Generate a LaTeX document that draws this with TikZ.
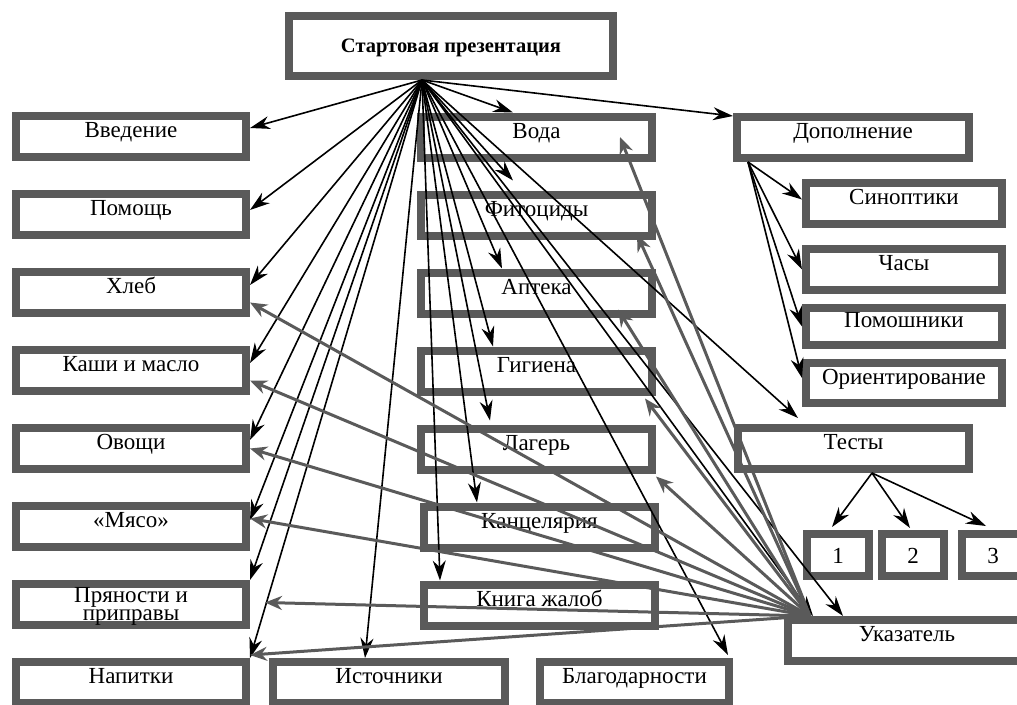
\documentclass[tikz,border=0pt]{standalone}
\usepackage{fontspec}
\setmainfont{Liberation Serif}
\usepackage{tikz}
\usetikzlibrary{arrows.meta, calc, positioning}
\definecolor{boxgray}{HTML}{5A5A5A}
\tikzstyle{block} = [rectangle, draw=boxgray, line width=8pt, outer sep=4pt, inner sep=0pt, minimum width=230pt, minimum height=41pt, text centered, text height=8pt, text depth=6pt, font=\fontsize{23pt}{24pt}\selectfont]
\tikzstyle{title} = [block, minimum width=324pt, minimum height=60pt, text height=15pt, text depth=3pt, font=\fontsize{20.5pt}{23pt}\selectfont\bfseries]
\tikzstyle{digit} = [block, minimum width=62pt, minimum height=42pt, text height=16pt, text depth=0pt]
\tikzstyle{arrow} = [line width=1.6pt, ->, >={Stealth[length=20pt, width=13pt]}]
\tikzstyle{backarrow} = [line width=3pt, draw=boxgray, ->, >={Stealth[length=17pt, width=14pt]}]

\begin{document}
\begin{tikzpicture}[x=1pt, y=-1pt, node distance = 29pt]
	\useasboundingbox (0,0) rectangle (1017,704);
	\node (Start) [title] at (451,46) {Стартовая презентация};
	% left column
	\node (Vvedenie) [block] at (131,136.5) {Введение};
	\node (Pomosch) [block, below = of Vvedenie] {Помощь};
	\node (Hleb) [block, below = of Pomosch] {Хлеб};
	\node (Kashi) [block, below = of Hleb] {Каши и масло};
	\node (Ovoschi) [block, below = of Kashi] {Овощи};
	\node (Myaso) [block, below = of Ovoschi] {«Мясо»};
	\node (Pryanosti) [block, below = of Myaso, align=center, text height=34pt, text depth=3pt] {Пряности и\\[-6pt]приправы};
	\node (Napitki) [block, below = of Pryanosti] {Напитки};
	% middle column
	\node (Voda) [block, minimum width=231pt] at (536.5,137) {Вода};
	\node (Fitocidy) [block, minimum width=231pt, below = of Voda] {Фитоциды};
	\node (Apteka) [block, minimum width=231pt, below = of Fitocidy] {Аптека};
	\node (Gigiena) [block, minimum width=231pt, below = of Apteka] {Гигиена};
	\node (Lager) [block, minimum width=231pt, below = of Gigiena] {Лагерь};
	\node (Kancelyariya) [block, minimum width=231pt, below = of Lager, xshift=3pt] {Канцелярия};
	\node (Kniga) [block, minimum width=231pt, below = of Kancelyariya] {Книга жалоб};
	\node (Istochniki) [block, minimum width=232pt] at (389,682.5) {Источники};
	\node (Blagodarnosti) [block, minimum width=189pt] at (634.5,682.5) {Благодарности};
	% right column
	\node (Dopolnenie) [block, minimum width=232pt] at (853,137.5) {Дополнение};
	\node (Sinoptiki) [block, minimum width=196pt] at (904,203.5) {Синоптики};
	\node (Chasy) [block, minimum width=196pt, below = 17pt of Sinoptiki] {Часы};
	\node (Pomoshniki) [block, minimum width=196pt, minimum height=37pt, below = 10pt of Chasy] {Помошники};
	\node (Orientirovanie) [block, minimum width=196pt, minimum height=40pt, below = 10pt of Pomoshniki] {Ориентирование};
	\node (Testy) [block, minimum width=231pt] at (853.5,448.5) {Тесты};
	\node (T1) [digit] at (838,555) {1};
	\node (T2) [digit, right = 5pt of T1] {2};
	\node (T3) [digit, right = 10pt of T2] {3};
	\node (Ukazatel) [block, minimum width=238pt] at (907,640.5) {Указатель};

	\coordinate (Hub) at ([xshift=-29pt]Start.south);
	\coordinate (DopHub) at ([xshift=15pt]Dopolnenie.south west);
	\coordinate (TestHub) at ([xshift=18.5pt]Testy.south);
	\coordinate (UkHub) at ([xshift=26pt]Ukazatel.north west);

	% from the start page
	\draw [arrow] (Hub) -- ([yshift=8.5pt]Vvedenie.east);
	\draw [arrow] (Hub) -- ([yshift=4.5pt]Pomosch.east);
	\draw [arrow] (Hub) -- ([yshift=7.5pt]Hleb.east);
	\draw [arrow] (Hub) -- ([yshift=7.5pt]Kashi.east);
	\draw [arrow] (Hub) -- ([yshift=8.5pt]Ovoschi.east);
	\draw [arrow] (Hub) -- ([yshift=6.5pt]Myaso.east);
	\draw [arrow] (Hub) -- (Pryanosti.north east);
	\draw [arrow] (Hub) -- (Napitki.north east);
	\draw [arrow] (Hub) -- ([xshift=-24pt]Istochniki.north);
	\draw [arrow] (Hub) -- ([xshift=20pt]Kniga.north west);
	\draw [arrow] (Hub) -- ([xshift=57pt]Kancelyariya.north west);
	\draw [arrow] (Hub) -- ([xshift=73pt, yshift=4pt]Lager.north west);
	\draw [arrow] (Hub) -- ([xshift=76pt]Gigiena.north west);
	\draw [arrow] (Hub) -- ([xshift=85pt]Apteka.north west);
	\draw [arrow] (Hub) -- ([xshift=96pt, yshift=10pt]Fitocidy.north west);
	\draw [arrow] (Hub) -- ([xshift=96pt]Voda.north west);
	\draw [arrow] (Hub) -- ([yshift=-3pt]Dopolnenie.north west);
	\draw [arrow] (Hub) -- ([xshift=64pt, yshift=6pt]Testy.north west);
	\draw [arrow] (Hub) -- ([xshift=29pt]Ukazatel.north west);
	\draw [arrow] (Hub) -- ([xshift=59pt]Ukazatel.north west);
	\draw [arrow] (Hub) -- ([xshift=-5pt, yshift=3pt]Blagodarnosti.north east);

	\draw [arrow] (DopHub) -- ([yshift=4pt]Sinoptiki.west);
	\draw [arrow] (DopHub) -- (Chasy.west);
	\draw [arrow] (DopHub) -- (Pomoshniki.west);
	\draw [arrow] (DopHub) -- ([yshift=5pt]Orientirovanie.west);

	\draw [arrow] (TestHub) -- ([xshift=-6pt, yshift=3pt]T1.north);
	\draw [arrow] (TestHub) -- ([xshift=-3pt, yshift=2pt]T2.north);
	\draw [arrow] (TestHub) -- ([xshift=-7pt, yshift=4pt]T3.north);

	% back from the index
	\draw [backarrow] (UkHub) -- ([xshift=-36pt]Voda.east);
	\draw [backarrow] (UkHub) -- ([xshift=-19pt, yshift=5pt]Fitocidy.south east);
	\draw [backarrow] (UkHub) -- ([xshift=-38pt, yshift=8pt]Apteka.south east);
	\draw [backarrow] (UkHub) -- ([xshift=-11pt, yshift=-3pt]Gigiena.south east);
	\draw [backarrow] (UkHub) -- ([yshift=-3pt]Lager.south east);
	\draw [backarrow] (UkHub) -- ([yshift=-10pt]Hleb.east);
	\draw [backarrow] (UkHub) -- ([yshift=-10pt]Kashi.east);
	\draw [backarrow] (UkHub) -- (Ovoschi.east);
	\draw [backarrow] (UkHub) -- ([yshift=8pt]Myaso.east);
	\draw [backarrow] (UkHub) -- ([xshift=15pt, yshift=2pt]Pryanosti.east);
	\draw [backarrow] (UkHub) -- ([yshift=3pt]Napitki.north east);
\end{tikzpicture}
\end{document}
